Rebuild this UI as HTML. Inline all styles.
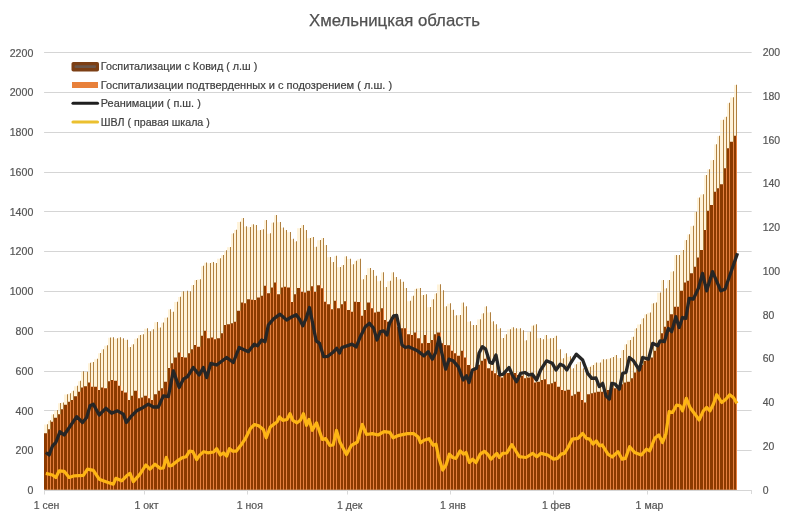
<!DOCTYPE html>
<html lang="ru"><head><meta charset="utf-8"><title>Хмельницкая область</title>
<style>html,body{margin:0;padding:0;background:#fff}svg{display:block}</style></head>
<body>
<svg width="792" height="530" viewBox="0 0 792 530" font-family="'Liberation Sans', sans-serif">
<rect width="792" height="530" fill="#fff"/>
<path d="M44.2 490.5H751.5M44.2 450.5H751.5M44.2 410.5H751.5M44.2 371.5H751.5M44.2 331.5H751.5M44.2 291.5H751.5M44.2 251.5H751.5M44.2 211.5H751.5M44.2 172.5H751.5M44.2 132.5H751.5M44.2 92.5H751.5M44.2 52.5H751.5" stroke="#d0d0d0" stroke-width="1" fill="none"/>
<path d="M751.5 490V494" stroke="#d9d9d9" stroke-width="1" fill="none"/>
<path d="M44 489.8H47V424.47H44ZM48 489.8H50V420.63H48ZM51 489.8H53V414.47H51ZM54 489.8H57V410.3H54ZM58 489.8H60V403.3H58ZM61 489.8H63V402.8H61ZM64 489.8H67V394.47H64ZM68 489.8H70V393.63H68ZM71 489.8H73V391.13H71ZM74 489.8H77V386.13H74ZM78 489.8H80V381.13H78ZM81 489.8H83V371.47H81ZM84 489.8H87V371.97H84ZM88 489.8H90V363.13H88ZM91 489.8H93V362.3H91ZM94 489.8H97V359.13H94ZM98 489.8H100V353.3H98ZM101 489.8H103V349.47H101ZM104 489.8H107V345.63H104ZM108 489.8H110V337.8H108ZM111 489.8H113V337.47H111ZM114 489.8H117V338.63H114ZM118 489.8H120V337.47H118ZM121 489.8H123V338.63H121ZM124 489.8H127V339.97H124ZM128 489.8H130V347.3H128ZM131 489.8H133V344.47H131ZM134 489.8H137V338.63H134ZM138 489.8H140V335.3H138ZM141 489.8H143V334.47H141ZM144 489.8H147V328.63H144ZM148 489.8H150V331.63H148ZM151 489.8H153V329.47H151ZM154 489.8H157V322.3H154ZM158 489.8H160V327.8H158ZM161 489.8H163V322.8H161ZM164 489.8H167V317.8H164ZM168 489.8H170V309.47H168ZM171 489.8H173V311.97H171ZM174 489.8H177V301.97H174ZM178 489.8H180V296.97H178ZM181 489.8H183V291.63H181ZM184 489.8H187V291.13H184ZM188 489.8H190V291.63H188ZM191 489.8H193V285.3H191ZM194 489.8H196V280.3H194ZM197 489.8H200V279.47H197ZM201 489.8H203V266.13H201ZM204 489.8H206V262.8H204ZM207 489.8H210V263.3H207ZM211 489.8H213V262.3H211ZM214 489.8H216V263.3H214ZM217 489.8H220V258.63H217ZM221 489.8H223V255.3H221ZM224 489.8H226V250.63H224ZM227 489.8H230V247.3H227ZM231 489.8H233V233.63H231ZM234 489.8H236V229.97H234ZM237 489.8H240V221.97H237ZM241 489.8H243V218.3H241ZM244 489.8H246V226.63H244ZM247 489.8H250V227.3H247ZM251 489.8H253V224.47H251ZM254 489.8H256V225.3H254ZM257 489.8H260V230.3H257ZM261 489.8H263V229.47H261ZM264 489.8H266V220.3H264ZM267 489.8H270V233.63H267ZM271 489.8H273V222.8H271ZM274 489.8H276V215.3H274ZM277 489.8H280V222.3H277ZM281 489.8H283V227.8H281ZM284 489.8H286V230.3H284ZM287 489.8H290V232.3H287ZM291 489.8H293V239.13H291ZM294 489.8H296V241.63H294ZM297 489.8H300V228.3H297ZM301 489.8H303V225.3H301ZM304 489.8H306V230.3H304ZM307 489.8H310V238.3H307ZM311 489.8H313V237.3H311ZM314 489.8H316V246.97H314ZM317 489.8H320V240.3H317ZM321 489.8H323V238.3H321ZM324 489.8H326V245.3H324ZM327 489.8H330V257.3H327ZM331 489.8H333V262.3H331ZM334 489.8H336V256.13H334ZM337 489.8H340V267.3H337ZM341 489.8H343V265.3H341ZM344 489.8H346V256.47H344ZM347 489.8H350V258.97H347ZM351 489.8H353V264.47H351ZM354 489.8H356V261.13H354ZM357 489.8H360V259.13H357ZM361 489.8H363V279.47H361ZM364 489.8H366V275.3H364ZM367 489.8H370V268.3H367ZM371 489.8H373V270.3H371ZM374 489.8H376V276.13H374ZM377 489.8H380V281.13H377ZM381 489.8H383V272.47H381ZM384 489.8H386V287.3H384ZM387 489.8H390V281.13H387ZM391 489.8H393V272.47H391ZM394 489.8H396V277.3H394ZM397 489.8H400V279.47H397ZM401 489.8H403V281.97H401ZM404 489.8H406V288.3H404ZM407 489.8H410V301.13H407ZM411 489.8H413V296.13H411ZM414 489.8H416V289.13H414ZM417 489.8H420V288.3H417ZM421 489.8H423V295.3H421ZM424 489.8H426V294.47H424ZM427 489.8H430V307.3H427ZM431 489.8H433V299.47H431ZM434 489.8H436V293.63H434ZM437 489.8H440V284.47H437ZM441 489.8H443V290.63H441ZM444 489.8H446V306.63H444ZM447 489.8H450V303.63H447ZM451 489.8H453V309.97H451ZM454 489.8H456V315.63H454ZM457 489.8H460V315.3H457ZM461 489.8H463V302.8H461ZM464 489.8H466V306.63H464ZM467 489.8H470V321.63H467ZM471 489.8H473V325.3H471ZM474 489.8H476V325.3H474ZM477 489.8H480V319.47H477ZM481 489.8H483V313.63H481ZM484 489.8H486V306.63H484ZM487 489.8H490V312.47H487ZM491 489.8H493V321.63H491ZM494 489.8H496V324.47H494ZM497 489.8H500V328.63H497ZM501 489.8H503V338.3H501ZM504 489.8H506V334.47H504ZM507 489.8H510V329.47H507ZM511 489.8H513V327.47H511ZM514 489.8H516V328.63H514ZM517 489.8H520V328.63H517ZM521 489.8H523V330.63H521ZM524 489.8H526V340.63H524ZM527 489.8H530V331.97H527ZM531 489.8H533V325.8H531ZM534 489.8H536V324.47H534ZM537 489.8H540V338.3H537ZM541 489.8H543V339.47H541ZM544 489.8H546V335.3H544ZM547 489.8H550V338.63H547ZM551 489.8H553V338.3H551ZM554 489.8H556V336.13H554ZM557 489.8H560V349.47H557ZM561 489.8H563V358.63H561ZM564 489.8H566V353.63H564ZM567 489.8H570V356.63H567ZM571 489.8H573V368.63H571ZM574 489.8H576V364.47H574ZM577 489.8H580V361.97H577ZM581 489.8H583V368.63H581ZM584 489.8H586V371.97H584ZM587 489.8H590V366.97H587ZM591 489.8H593V365.3H591ZM594 489.8H596V362.8H594ZM597 489.8H600V362.8H597ZM601 489.8H603V359.47H601ZM604 489.8H606V359.47H604ZM607 489.8H610V358.63H607ZM611 489.8H613V357.3H611ZM614 489.8H616V355.3H614ZM617 489.8H620V358.3H617ZM621 489.8H623V350.3H621ZM624 489.8H626V344.47H624ZM627 489.8H630V340.3H627ZM631 489.8H633V336.97H631ZM634 489.8H636V328.63H634ZM637 489.8H640V324.47H637ZM641 489.8H643V318.63H641ZM644 489.8H646V314.47H644ZM647 489.8H650V312.8H647ZM651 489.8H653V303.63H651ZM654 489.8H656V302.8H654ZM657 489.8H660V292.8H657ZM661 489.8H663V280.3H661ZM664 489.8H666V288.63H664ZM667 489.8H669V280.3H667ZM670 489.8H673V271.63H670ZM674 489.8H676V255.3H674ZM677 489.8H679V255.3H677ZM680 489.8H683V250.3H680ZM684 489.8H686V240.3H684ZM687 489.8H689V234.47H687ZM690 489.8H693V226.13H690ZM694 489.8H696V211.97H694ZM697 489.8H699V197.8H697ZM700 489.8H703V194.47H700ZM704 489.8H706V175.3H704ZM707 489.8H709V169.47H707ZM710 489.8H713V160.3H710ZM714 489.8H716V144.47H714ZM717 489.8H719V136.13H717ZM720 489.8H723V119.97H720ZM724 489.8H726V116.97H724ZM727 489.8H729V103.13H727ZM730 489.8H733V97.47H730ZM734 489.8H736V84.97H734Z" fill="#fff3da"/>
<path d="M44.2 490.5H751.5M44.2 450.5H751.5M44.2 410.5H751.5M44.2 371.5H751.5M44.2 331.5H751.5M44.2 291.5H751.5M44.2 251.5H751.5M44.2 211.5H751.5M44.2 172.5H751.5M44.2 132.5H751.5M44.2 92.5H751.5M44.2 52.5H751.5" stroke="#d9d9d9" stroke-opacity="0.6" stroke-width="1" fill="none"/>
<path d="M47 489.8H48V424.17H47ZM50 489.8H51V420.33H50ZM53 489.8H54V414.17H53ZM57 489.8H58V410H57ZM60 489.8H61V403H60ZM63 489.8H64V402.5H63ZM67 489.8H68V394.17H67ZM70 489.8H71V393.33H70ZM73 489.8H74V390.83H73ZM77 489.8H78V385.83H77ZM80 489.8H81V380.83H80ZM83 489.8H84V371.17H83ZM87 489.8H88V371.67H87ZM90 489.8H91V362.83H90ZM93 489.8H94V362H93ZM97 489.8H98V358.83H97ZM100 489.8H101V353H100ZM103 489.8H104V349.17H103ZM107 489.8H108V345.33H107ZM110 489.8H111V337.5H110ZM113 489.8H114V337.17H113ZM117 489.8H118V338.33H117ZM120 489.8H121V337.17H120ZM123 489.8H124V338.33H123ZM127 489.8H128V339.67H127ZM130 489.8H131V347H130ZM133 489.8H134V344.17H133ZM137 489.8H138V338.33H137ZM140 489.8H141V335H140ZM143 489.8H144V334.17H143ZM147 489.8H148V328.33H147ZM150 489.8H151V331.33H150ZM153 489.8H154V329.17H153ZM157 489.8H158V322H157ZM160 489.8H161V327.5H160ZM163 489.8H164V322.5H163ZM167 489.8H168V317.5H167ZM170 489.8H171V309.17H170ZM173 489.8H174V311.67H173ZM177 489.8H178V301.67H177ZM180 489.8H181V296.67H180ZM183 489.8H184V291.33H183ZM187 489.8H188V290.83H187ZM190 489.8H191V291.33H190ZM193 489.8H194V285H193ZM196 489.8H197V280H196ZM200 489.8H201V279.17H200ZM203 489.8H204V265.83H203ZM206 489.8H207V262.5H206ZM210 489.8H211V263H210ZM213 489.8H214V262H213ZM216 489.8H217V263H216ZM220 489.8H221V258.33H220ZM223 489.8H224V255H223ZM226 489.8H227V250.33H226ZM230 489.8H231V247H230ZM233 489.8H234V233.33H233ZM236 489.8H237V229.67H236ZM240 489.8H241V221.67H240ZM243 489.8H244V218H243ZM246 489.8H247V226.33H246ZM250 489.8H251V227H250ZM253 489.8H254V224.17H253ZM256 489.8H257V225H256ZM260 489.8H261V230H260ZM263 489.8H264V229.17H263ZM266 489.8H267V220H266ZM270 489.8H271V233.33H270ZM273 489.8H274V222.5H273ZM276 489.8H277V215H276ZM280 489.8H281V222H280ZM283 489.8H284V227.5H283ZM286 489.8H287V230H286ZM290 489.8H291V232H290ZM293 489.8H294V238.83H293ZM296 489.8H297V241.33H296ZM300 489.8H301V228H300ZM303 489.8H304V225H303ZM306 489.8H307V230H306ZM310 489.8H311V238H310ZM313 489.8H314V237H313ZM316 489.8H317V246.67H316ZM320 489.8H321V240H320ZM323 489.8H324V238H323ZM326 489.8H327V245H326ZM330 489.8H331V257H330ZM333 489.8H334V262H333ZM336 489.8H337V255.83H336ZM340 489.8H341V267H340ZM343 489.8H344V265H343ZM346 489.8H347V256.17H346ZM350 489.8H351V258.67H350ZM353 489.8H354V264.17H353ZM356 489.8H357V260.83H356ZM360 489.8H361V258.83H360ZM363 489.8H364V279.17H363ZM366 489.8H367V275H366ZM370 489.8H371V268H370ZM373 489.8H374V270H373ZM376 489.8H377V275.83H376ZM380 489.8H381V280.83H380ZM383 489.8H384V272.17H383ZM386 489.8H387V287H386ZM390 489.8H391V280.83H390ZM393 489.8H394V272.17H393ZM396 489.8H397V277H396ZM400 489.8H401V279.17H400ZM403 489.8H404V281.67H403ZM406 489.8H407V288H406ZM410 489.8H411V300.83H410ZM413 489.8H414V295.83H413ZM416 489.8H417V288.83H416ZM420 489.8H421V288H420ZM423 489.8H424V295H423ZM426 489.8H427V294.17H426ZM430 489.8H431V307H430ZM433 489.8H434V299.17H433ZM436 489.8H437V293.33H436ZM440 489.8H441V284.17H440ZM443 489.8H444V290.33H443ZM446 489.8H447V306.33H446ZM450 489.8H451V303.33H450ZM453 489.8H454V309.67H453ZM456 489.8H457V315.33H456ZM460 489.8H461V315H460ZM463 489.8H464V302.5H463ZM466 489.8H467V306.33H466ZM470 489.8H471V321.33H470ZM473 489.8H474V325H473ZM476 489.8H477V325H476ZM480 489.8H481V319.17H480ZM483 489.8H484V313.33H483ZM486 489.8H487V306.33H486ZM490 489.8H491V312.17H490ZM493 489.8H494V321.33H493ZM496 489.8H497V324.17H496ZM500 489.8H501V328.33H500ZM503 489.8H504V338H503ZM506 489.8H507V334.17H506ZM510 489.8H511V329.17H510ZM513 489.8H514V327.17H513ZM516 489.8H517V328.33H516ZM520 489.8H521V328.33H520ZM523 489.8H524V330.33H523ZM526 489.8H527V340.33H526ZM530 489.8H531V331.67H530ZM533 489.8H534V325.5H533ZM536 489.8H537V324.17H536ZM540 489.8H541V338H540ZM543 489.8H544V339.17H543ZM546 489.8H547V335H546ZM550 489.8H551V338.33H550ZM553 489.8H554V338H553ZM556 489.8H557V335.83H556ZM560 489.8H561V349.17H560ZM563 489.8H564V358.33H563ZM566 489.8H567V353.33H566ZM570 489.8H571V356.33H570ZM573 489.8H574V368.33H573ZM576 489.8H577V364.17H576ZM580 489.8H581V361.67H580ZM583 489.8H584V368.33H583ZM586 489.8H587V371.67H586ZM590 489.8H591V366.67H590ZM593 489.8H594V365H593ZM596 489.8H597V362.5H596ZM600 489.8H601V362.5H600ZM603 489.8H604V359.17H603ZM606 489.8H607V359.17H606ZM610 489.8H611V358.33H610ZM613 489.8H614V357H613ZM616 489.8H617V355H616ZM620 489.8H621V358H620ZM623 489.8H624V350H623ZM626 489.8H627V344.17H626ZM630 489.8H631V340H630ZM633 489.8H634V336.67H633ZM636 489.8H637V328.33H636ZM640 489.8H641V324.17H640ZM643 489.8H644V318.33H643ZM646 489.8H647V314.17H646ZM650 489.8H651V312.5H650ZM653 489.8H654V303.33H653ZM656 489.8H657V302.5H656ZM660 489.8H661V292.5H660ZM663 489.8H664V280H663ZM666 489.8H667V288.33H666ZM669 489.8H670V280H669ZM673 489.8H674V271.33H673ZM676 489.8H677V255H676ZM679 489.8H680V255H679ZM683 489.8H684V250H683ZM686 489.8H687V240H686ZM689 489.8H690V234.17H689ZM693 489.8H694V225.83H693ZM696 489.8H697V211.67H696ZM699 489.8H700V197.5H699ZM703 489.8H704V194.17H703ZM706 489.8H707V175H706ZM709 489.8H710V169.17H709ZM713 489.8H714V160H713ZM716 489.8H717V144.17H716ZM719 489.8H720V135.83H719ZM723 489.8H724V119.67H723ZM726 489.8H727V116.67H726ZM729 489.8H730V102.83H729ZM733 489.8H734V97.17H733ZM736 489.8H737V84.67H736Z" fill="#b08040"/>
<path d="M47 489.8H48V433.33H47ZM50 489.8H51V429.17H50ZM53 489.8H54V421.67H53ZM57 489.8H58V417.83H57ZM60 489.8H61V414.17H60ZM63 489.8H64V409.17H63ZM67 489.8H68V404.67H67ZM70 489.8H71V401.67H70ZM73 489.8H74V400H73ZM77 489.8H78V396.33H77ZM80 489.8H81V391.67H80ZM83 489.8H84V387.5H83ZM87 489.8H88V386.33H87ZM90 489.8H91V382.5H90ZM93 489.8H94V386.67H93ZM97 489.8H98V386.67H97ZM100 489.8H101V390H100ZM103 489.8H104V387.5H103ZM107 489.8H108V388.33H107ZM110 489.8H111V381.33H110ZM113 489.8H114V380H113ZM117 489.8H118V380.83H117ZM120 489.8H121V385.83H120ZM123 489.8H124V390.83H123ZM127 489.8H128V392.5H127ZM130 489.8H131V400H130ZM133 489.8H134V395.83H133ZM137 489.8H138V390.83H137ZM140 489.8H141V398.33H140ZM143 489.8H144V397.5H143ZM147 489.8H148V395.83H147ZM150 489.8H151V398.33H150ZM153 489.8H154V400H153ZM157 489.8H158V394.17H157ZM160 489.8H161V390.83H160ZM163 489.8H164V388.33H163ZM167 489.8H168V381.67H167ZM170 489.8H171V368H170ZM173 489.8H174V363.33H173ZM177 489.8H178V357.5H177ZM180 489.8H181V352.5H180ZM183 489.8H184V357H183ZM187 489.8H188V357.5H187ZM190 489.8H191V353.33H190ZM193 489.8H194V349.17H193ZM196 489.8H197V345H196ZM200 489.8H201V346.67H200ZM203 489.8H204V335.83H203ZM206 489.8H207V330.83H206ZM210 489.8H211V338.33H210ZM213 489.8H214V337.5H213ZM216 489.8H217V339.17H216ZM220 489.8H221V338.33H220ZM223 489.8H224V333.33H223ZM226 489.8H227V325H226ZM230 489.8H231V324.17H230ZM233 489.8H234V323.33H233ZM236 489.8H237V321.67H236ZM240 489.8H241V310.83H240ZM243 489.8H244V302.5H243ZM246 489.8H247V303.33H246ZM250 489.8H251V299.17H250ZM253 489.8H254V299.67H253ZM256 489.8H257V300H256ZM260 489.8H261V297.5H260ZM263 489.8H264V295.83H263ZM266 489.8H267V285.83H266ZM270 489.8H271V293.33H270ZM273 489.8H274V287.5H273ZM276 489.8H277V282.5H276ZM280 489.8H281V294.17H280ZM283 489.8H284V287.5H283ZM286 489.8H287V286.67H286ZM290 489.8H291V287.5H290ZM293 489.8H294V302H293ZM296 489.8H297V294.17H296ZM300 489.8H301V288H300ZM303 489.8H304V291.67H303ZM306 489.8H307V292.5H306ZM310 489.8H311V290.83H310ZM313 489.8H314V286.33H313ZM316 489.8H317V291.67H316ZM320 489.8H321V285.33H320ZM323 489.8H324V288.33H323ZM326 489.8H327V301.67H326ZM330 489.8H331V304.17H330ZM333 489.8H334V309.17H333ZM336 489.8H337V300.83H336ZM340 489.8H341V308.33H340ZM343 489.8H344V304.17H343ZM346 489.8H347V301.33H346ZM350 489.8H351V310H350ZM353 489.8H354V311.67H353ZM356 489.8H357V301.67H356ZM360 489.8H361V302H360ZM363 489.8H364V315.83H363ZM366 489.8H367V310H366ZM370 489.8H371V302.5H370ZM373 489.8H374V308.33H373ZM376 489.8H377V312.5H376ZM380 489.8H381V311.67H380ZM383 489.8H384V308.33H383ZM386 489.8H387V320H386ZM390 489.8H391V321.67H390ZM393 489.8H394V318.33H393ZM396 489.8H397V315.83H396ZM400 489.8H401V326.67H400ZM403 489.8H404V328.33H403ZM406 489.8H407V328.33H406ZM410 489.8H411V334.17H410ZM413 489.8H414V335H413ZM416 489.8H417V332.5H416ZM420 489.8H421V338.33H420ZM423 489.8H424V343.33H423ZM426 489.8H427V335H426ZM430 489.8H431V343H430ZM433 489.8H434V340H433ZM436 489.8H437V334.17H436ZM440 489.8H441V332.5H440ZM443 489.8H444V343.33H443ZM446 489.8H447V345H446ZM450 489.8H451V345.33H450ZM453 489.8H454V350.83H453ZM456 489.8H457V353.33H456ZM460 489.8H461V355.83H460ZM463 489.8H464V350.83H463ZM466 489.8H467V357.5H466ZM470 489.8H471V365H470ZM473 489.8H474V369.17H473ZM476 489.8H477V367.5H476ZM480 489.8H481V364.67H480ZM483 489.8H484V360.83H483ZM486 489.8H487V358.67H486ZM490 489.8H491V368.33H490ZM493 489.8H494V370.83H493ZM496 489.8H497V373.33H496ZM500 489.8H501V375H500ZM503 489.8H504V377.5H503ZM506 489.8H507V372.5H506ZM510 489.8H511V373H510ZM513 489.8H514V373.67H513ZM516 489.8H517V373H516ZM520 489.8H521V375H520ZM523 489.8H524V375.83H523ZM526 489.8H527V378.33H526ZM530 489.8H531V377.5H530ZM533 489.8H534V375H533ZM536 489.8H537V382.5H536ZM540 489.8H541V381.67H540ZM543 489.8H544V380H543ZM546 489.8H547V379.17H546ZM550 489.8H551V384.17H550ZM553 489.8H554V383.33H553ZM556 489.8H557V381.67H556ZM560 489.8H561V386.67H560ZM563 489.8H564V390H563ZM566 489.8H567V390.83H566ZM570 489.8H571V389.67H570ZM573 489.8H574V395.83H573ZM576 489.8H577V394.17H576ZM580 489.8H581V391.67H580ZM583 489.8H584V400H583ZM586 489.8H587V402.5H586ZM590 489.8H591V394.17H590ZM593 489.8H594V393.33H593ZM596 489.8H597V392.5H596ZM600 489.8H601V391.67H600ZM603 489.8H604V391.67H603ZM606 489.8H607V390.83H606ZM610 489.8H611V390H610ZM613 489.8H614V387.5H613ZM616 489.8H617V388.33H616ZM620 489.8H621V389.17H620ZM623 489.8H624V384.17H623ZM626 489.8H627V382.5H626ZM630 489.8H631V381.67H630ZM633 489.8H634V378.33H633ZM636 489.8H637V372.5H636ZM640 489.8H641V370H640ZM643 489.8H644V365H643ZM646 489.8H647V360.83H646ZM650 489.8H651V359.17H650ZM653 489.8H654V357.5H653ZM656 489.8H657V350.83H656ZM660 489.8H661V343.33H660ZM663 489.8H664V333.33H663ZM666 489.8H667V326.67H666ZM669 489.8H670V320.83H669ZM673 489.8H674V314.17H673ZM676 489.8H677V306.67H676ZM679 489.8H680V306.67H679ZM683 489.8H684V290.83H683ZM686 489.8H687V282.5H686ZM689 489.8H690V280.83H689ZM693 489.8H694V273.33H693ZM696 489.8H697V266.67H696ZM699 489.8H700V257.5H699ZM703 489.8H704V250H703ZM706 489.8H707V230H706ZM709 489.8H710V210.83H709ZM713 489.8H714V205H713ZM716 489.8H717V191.67H716ZM719 489.8H720V188.33H719ZM723 489.8H724V184.17H723ZM726 489.8H727V168.33H726ZM729 489.8H730V148.33H729ZM733 489.8H734V141.67H733ZM736 489.8H737V135.8H736Z" fill="#e58040"/>
<path d="M44 489.8H47V433.33H44ZM48 489.8H50V429.17H48ZM51 489.8H53V421.67H51ZM54 489.8H57V417.83H54ZM58 489.8H60V414.17H58ZM61 489.8H63V409.17H61ZM64 489.8H67V404.67H64ZM68 489.8H70V401.67H68ZM71 489.8H73V400H71ZM74 489.8H77V396.33H74ZM78 489.8H80V391.67H78ZM81 489.8H83V387.5H81ZM84 489.8H87V386.33H84ZM88 489.8H90V382.5H88ZM91 489.8H93V386.67H91ZM94 489.8H97V386.67H94ZM98 489.8H100V390H98ZM101 489.8H103V387.5H101ZM104 489.8H107V388.33H104ZM108 489.8H110V381.33H108ZM111 489.8H113V380H111ZM114 489.8H117V380.83H114ZM118 489.8H120V385.83H118ZM121 489.8H123V390.83H121ZM124 489.8H127V392.5H124ZM128 489.8H130V400H128ZM131 489.8H133V395.83H131ZM134 489.8H137V390.83H134ZM138 489.8H140V398.33H138ZM141 489.8H143V397.5H141ZM144 489.8H147V395.83H144ZM148 489.8H150V398.33H148ZM151 489.8H153V400H151ZM154 489.8H157V394.17H154ZM158 489.8H160V390.83H158ZM161 489.8H163V388.33H161ZM164 489.8H167V381.67H164ZM168 489.8H170V368H168ZM171 489.8H173V363.33H171ZM174 489.8H177V357.5H174ZM178 489.8H180V352.5H178ZM181 489.8H183V357H181ZM184 489.8H187V357.5H184ZM188 489.8H190V353.33H188ZM191 489.8H193V349.17H191ZM194 489.8H196V345H194ZM197 489.8H200V346.67H197ZM201 489.8H203V335.83H201ZM204 489.8H206V330.83H204ZM207 489.8H210V338.33H207ZM211 489.8H213V337.5H211ZM214 489.8H216V339.17H214ZM217 489.8H220V338.33H217ZM221 489.8H223V333.33H221ZM224 489.8H226V325H224ZM227 489.8H230V324.17H227ZM231 489.8H233V323.33H231ZM234 489.8H236V321.67H234ZM237 489.8H240V310.83H237ZM241 489.8H243V302.5H241ZM244 489.8H246V303.33H244ZM247 489.8H250V299.17H247ZM251 489.8H253V299.67H251ZM254 489.8H256V300H254ZM257 489.8H260V297.5H257ZM261 489.8H263V295.83H261ZM264 489.8H266V285.83H264ZM267 489.8H270V293.33H267ZM271 489.8H273V287.5H271ZM274 489.8H276V282.5H274ZM277 489.8H280V294.17H277ZM281 489.8H283V287.5H281ZM284 489.8H286V286.67H284ZM287 489.8H290V287.5H287ZM291 489.8H293V302H291ZM294 489.8H296V294.17H294ZM297 489.8H300V288H297ZM301 489.8H303V291.67H301ZM304 489.8H306V292.5H304ZM307 489.8H310V290.83H307ZM311 489.8H313V286.33H311ZM314 489.8H316V291.67H314ZM317 489.8H320V285.33H317ZM321 489.8H323V288.33H321ZM324 489.8H326V301.67H324ZM327 489.8H330V304.17H327ZM331 489.8H333V309.17H331ZM334 489.8H336V300.83H334ZM337 489.8H340V308.33H337ZM341 489.8H343V304.17H341ZM344 489.8H346V301.33H344ZM347 489.8H350V310H347ZM351 489.8H353V311.67H351ZM354 489.8H356V301.67H354ZM357 489.8H360V302H357ZM361 489.8H363V315.83H361ZM364 489.8H366V310H364ZM367 489.8H370V302.5H367ZM371 489.8H373V308.33H371ZM374 489.8H376V312.5H374ZM377 489.8H380V311.67H377ZM381 489.8H383V308.33H381ZM384 489.8H386V320H384ZM387 489.8H390V321.67H387ZM391 489.8H393V318.33H391ZM394 489.8H396V315.83H394ZM397 489.8H400V326.67H397ZM401 489.8H403V328.33H401ZM404 489.8H406V328.33H404ZM407 489.8H410V334.17H407ZM411 489.8H413V335H411ZM414 489.8H416V332.5H414ZM417 489.8H420V338.33H417ZM421 489.8H423V343.33H421ZM424 489.8H426V335H424ZM427 489.8H430V343H427ZM431 489.8H433V340H431ZM434 489.8H436V334.17H434ZM437 489.8H440V332.5H437ZM441 489.8H443V343.33H441ZM444 489.8H446V345H444ZM447 489.8H450V345.33H447ZM451 489.8H453V350.83H451ZM454 489.8H456V353.33H454ZM457 489.8H460V355.83H457ZM461 489.8H463V350.83H461ZM464 489.8H466V357.5H464ZM467 489.8H470V365H467ZM471 489.8H473V369.17H471ZM474 489.8H476V367.5H474ZM477 489.8H480V364.67H477ZM481 489.8H483V360.83H481ZM484 489.8H486V358.67H484ZM487 489.8H490V368.33H487ZM491 489.8H493V370.83H491ZM494 489.8H496V373.33H494ZM497 489.8H500V375H497ZM501 489.8H503V377.5H501ZM504 489.8H506V372.5H504ZM507 489.8H510V373H507ZM511 489.8H513V373.67H511ZM514 489.8H516V373H514ZM517 489.8H520V375H517ZM521 489.8H523V375.83H521ZM524 489.8H526V378.33H524ZM527 489.8H530V377.5H527ZM531 489.8H533V375H531ZM534 489.8H536V382.5H534ZM537 489.8H540V381.67H537ZM541 489.8H543V380H541ZM544 489.8H546V379.17H544ZM547 489.8H550V384.17H547ZM551 489.8H553V383.33H551ZM554 489.8H556V381.67H554ZM557 489.8H560V386.67H557ZM561 489.8H563V390H561ZM564 489.8H566V390.83H564ZM567 489.8H570V389.67H567ZM571 489.8H573V395.83H571ZM574 489.8H576V394.17H574ZM577 489.8H580V391.67H577ZM581 489.8H583V400H581ZM584 489.8H586V402.5H584ZM587 489.8H590V394.17H587ZM591 489.8H593V393.33H591ZM594 489.8H596V392.5H594ZM597 489.8H600V391.67H597ZM601 489.8H603V391.67H601ZM604 489.8H606V390.83H604ZM607 489.8H610V390H607ZM611 489.8H613V387.5H611ZM614 489.8H616V388.33H614ZM617 489.8H620V389.17H617ZM621 489.8H623V384.17H621ZM624 489.8H626V382.5H624ZM627 489.8H630V381.67H627ZM631 489.8H633V378.33H631ZM634 489.8H636V372.5H634ZM637 489.8H640V370H637ZM641 489.8H643V365H641ZM644 489.8H646V360.83H644ZM647 489.8H650V359.17H647ZM651 489.8H653V357.5H651ZM654 489.8H656V350.83H654ZM657 489.8H660V343.33H657ZM661 489.8H663V333.33H661ZM664 489.8H666V326.67H664ZM667 489.8H669V320.83H667ZM670 489.8H673V314.17H670ZM674 489.8H676V306.67H674ZM677 489.8H679V306.67H677ZM680 489.8H683V290.83H680ZM684 489.8H686V282.5H684ZM687 489.8H689V280.83H687ZM690 489.8H693V273.33H690ZM694 489.8H696V266.67H694ZM697 489.8H699V257.5H697ZM700 489.8H703V250H700ZM704 489.8H706V230H704ZM707 489.8H709V210.83H707ZM710 489.8H713V205H710ZM714 489.8H716V191.67H714ZM717 489.8H719V188.33H717ZM720 489.8H723V184.17H720ZM724 489.8H726V168.33H724ZM727 489.8H729V148.33H727ZM730 489.8H733V141.67H730ZM734 489.8H736V135.8H734Z" fill="#8b3a00"/>
<polyline points="45.83,473.33 52.5,475 55.83,477.5 59.17,470.83 64.17,471.33 69.17,477.5 74.17,475.83 83.33,475.33 87.5,469.17 93.33,470.33 99.17,479.17 106.67,482 113.33,484.17 115.83,478.33 121.67,480.83 126.67,475.83 130,473.33 133.33,481.67 140,474.17 145.83,465 150,469.17 155,464.17 160,468.33 163.33,468 166.33,457.5 169.17,465.83 172,465.33 177,461.17 182,457.83 186.17,456.67 189.5,451.17 192.83,451.67 196.67,459.5 199.5,455.33 203.67,451.67 207.83,452.83 213.67,452 216.67,448.67 220.33,455 223.67,452.83 226.67,456.17 229.5,448.67 232.83,451.17 236.17,451.17 242,443.67 245.33,438.67 250.33,428.67 254.5,424.5 258.67,425.67 263.33,429.5 266.17,437.83 270.33,427 274.5,423.67 277,422 279.5,417 282.83,420.33 287,419.5 290,413.67 292.83,420.33 297,422.83 300.33,420.33 303.42,413.67 306.5,425.33 309,419.5 312.33,430.33 316.5,422.83 322.33,439.5 325.67,438.67 329.83,445.33 333.17,445 336.5,430.33 339.83,442 346.5,454.5 351.5,445.33 357.33,442 362.33,424.5 366.5,434.5 372.33,433.67 378.17,435 384,431.67 389.83,432.33 393.17,437.83 399,435.33 407.33,433.67 414,433.67 418.17,437 420.67,442.83 424,440.33 429,438.67 433.17,445.33 436,444.17 438.5,456.67 442.67,470 446,465 449.33,454.17 452.67,457.5 456,458.33 460.17,450.83 463.5,454.17 466,452.5 469.33,462.5 472.67,459.17 476,462.5 480.17,454.17 484.33,451.33 487.67,454.17 491,459.17 496.83,453.33 499.33,457.5 502.67,453.33 506.83,453 511.83,444.67 515.17,450 519.33,456.67 526,457.5 532.67,453.33 536.83,456.67 541,453.33 547.67,455 553.5,459.17 557.67,458.33 561,454.17 564.33,453.33 568,447.5 572.17,439.17 578,438.33 582.67,433.33 586.33,438.33 589.67,439.17 593,444.17 596.33,440.83 599.67,445.83 602.17,445 608,454.17 612.17,457 618,451.67 622.17,459.17 625.5,458.33 629.67,446.67 634.67,452.5 641.33,455 646.33,449.17 649.67,450.83 654.67,438.33 658.83,435 662.5,442.5 665.83,434.17 669.17,411.67 672.5,412.5 676.67,405 680,405.83 682.5,410.83 686.33,398.33 690,407.5 695,414.17 699.17,420 703.33,410.83 706.67,407.5 710,410.83 713.33,404.17 716.67,394.67 721.67,402.5 725.83,399.17 729.67,394.67 733.33,397.5 737,403.33" fill="none" stroke="#fdb515" stroke-width="3.2" stroke-linejoin="round" stroke-linecap="butt"/>
<polyline points="45.83,452.5 49.17,455 52.5,445.83 55.83,442.5 60,431.67 64.17,435 76.67,416.67 82.5,422.5 86.67,417.5 90,405.83 93.33,404.17 99.17,415 105.83,408.33 111.67,413.33 117.5,410.83 123.33,414.17 126.33,422.5 130.83,416.67 136.67,410.83 141.67,408.33 148.33,404.17 153.33,407 158.33,407 163.33,395.83 168.33,396.67 173.33,370.83 179.17,387.5 183.33,379.17 187.5,376.67 193.33,367.5 199.17,375 203.33,367.5 206.67,377.5 210.83,363.33 216.67,365 226.67,357.5 233.33,362.5 239.17,347.5 248.33,351.67 254.17,344.17 257.5,345.83 261.67,340 265,341.67 268.33,325 273.33,319.17 280,314.17 286.67,320 292,316.67 296.17,314.67 299.5,319.17 302.83,325.83 306.17,318.33 309.5,307.5 312,320 316.17,340.83 319.5,343.33 323.67,356.67 327.83,356.33 333.67,351.67 336.67,348.33 339.5,353 342,347.5 347,345.83 352,344.17 356.17,347 360.33,336.67 365.33,326.67 369.5,323.33 373.67,328.33 377,340 380.33,331.67 383.67,330.83 387,335 389.5,323.33 393.67,315.83 396.67,315.33 398.67,325 402,345 405.33,347.5 408.67,346.67 412,348.33 415.33,349.67 418.67,351.67 424,355.83 428.17,351.67 432.33,359.17 435.67,352.5 439,337.5 441.5,351.67 445.67,369.17 449,359.17 453.17,360.83 458.17,366.67 463.17,380 466.5,375.83 469,382.5 472.33,370 476.5,368.33 479,353.33 482.33,346.67 485.67,349.17 489.83,362.5 492.33,363.33 496,355 499.83,375 503.17,374.17 509,367.5 512.33,375 516.5,381.67 520.67,373.33 524.83,372.5 529,375 532.33,374.17 536.5,380 540.67,370 546.5,360.83 552.33,363.33 556,370 560.17,364.17 563.5,365.83 566.83,370 571,362.5 576.33,354.17 582.67,360 587.67,373.33 591.83,378.33 596,378 599.33,386.67 602.67,383.33 606,395.83 609.33,399.17 611.83,383.33 615.17,384.17 619.33,389.17 622.67,373.33 626,372.5 629.33,357.5 633.5,360.83 639.33,370 642.67,357.5 648.5,359.17 652.67,343.33 657.67,345.83 660.17,340.83 664.33,341.67 668.33,328.33 671.67,331.67 675.83,316.67 679.17,327.5 682.5,317.5 685.83,318.33 689.17,298.33 693.33,299.17 698.33,288.33 702.5,273.33 706.67,290.83 712.5,271.67 720.83,290.83 725,289.17 737.5,253.33" fill="none" stroke="#262626" stroke-width="3.3" stroke-linejoin="round" stroke-linecap="butt"/>
<path d="M44.5 490.5V494.5M144.5 490.5V494.5M247.5 490.5V494.5M347.5 490.5V494.5M450.5 490.5V494.5M553.5 490.5V494.5M647.5 490.5V494.5" stroke="#d9d9d9" stroke-width="1" fill="none"/>
<text x="394.5" y="25.6" font-size="16.8" fill="#505050" stroke="#505050" stroke-width="0.25" text-anchor="middle" textLength="171" lengthAdjust="spacingAndGlyphs">Хмельницкая область</text>
<text x="33.3" y="494.1" font-size="10.9" fill="#555" stroke="#555" stroke-width="0.2" text-anchor="end" textLength="5.9" lengthAdjust="spacingAndGlyphs">0</text>
<text x="33.3" y="454.32" font-size="10.9" fill="#555" stroke="#555" stroke-width="0.2" text-anchor="end" textLength="17.7" lengthAdjust="spacingAndGlyphs">200</text>
<text x="33.3" y="414.54" font-size="10.9" fill="#555" stroke="#555" stroke-width="0.2" text-anchor="end" textLength="17.7" lengthAdjust="spacingAndGlyphs">400</text>
<text x="33.3" y="374.76" font-size="10.9" fill="#555" stroke="#555" stroke-width="0.2" text-anchor="end" textLength="17.7" lengthAdjust="spacingAndGlyphs">600</text>
<text x="33.3" y="334.98" font-size="10.9" fill="#555" stroke="#555" stroke-width="0.2" text-anchor="end" textLength="17.7" lengthAdjust="spacingAndGlyphs">800</text>
<text x="33.3" y="295.2" font-size="10.9" fill="#555" stroke="#555" stroke-width="0.2" text-anchor="end" textLength="23.6" lengthAdjust="spacingAndGlyphs">1000</text>
<text x="33.3" y="255.42" font-size="10.9" fill="#555" stroke="#555" stroke-width="0.2" text-anchor="end" textLength="23.6" lengthAdjust="spacingAndGlyphs">1200</text>
<text x="33.3" y="215.64" font-size="10.9" fill="#555" stroke="#555" stroke-width="0.2" text-anchor="end" textLength="23.6" lengthAdjust="spacingAndGlyphs">1400</text>
<text x="33.3" y="175.86" font-size="10.9" fill="#555" stroke="#555" stroke-width="0.2" text-anchor="end" textLength="23.6" lengthAdjust="spacingAndGlyphs">1600</text>
<text x="33.3" y="136.08" font-size="10.9" fill="#555" stroke="#555" stroke-width="0.2" text-anchor="end" textLength="23.6" lengthAdjust="spacingAndGlyphs">1800</text>
<text x="33.3" y="96.3" font-size="10.9" fill="#555" stroke="#555" stroke-width="0.2" text-anchor="end" textLength="23.6" lengthAdjust="spacingAndGlyphs">2000</text>
<text x="33.3" y="56.52" font-size="10.9" fill="#555" stroke="#555" stroke-width="0.2" text-anchor="end" textLength="23.6" lengthAdjust="spacingAndGlyphs">2200</text>
<text x="762.7" y="493.8" font-size="10.9" fill="#555" stroke="#555" stroke-width="0.2" textLength="5.8" lengthAdjust="spacingAndGlyphs">0</text>
<text x="762.7" y="450.02" font-size="10.9" fill="#555" stroke="#555" stroke-width="0.2" textLength="11.6" lengthAdjust="spacingAndGlyphs">20</text>
<text x="762.7" y="406.24" font-size="10.9" fill="#555" stroke="#555" stroke-width="0.2" textLength="11.6" lengthAdjust="spacingAndGlyphs">40</text>
<text x="762.7" y="362.46" font-size="10.9" fill="#555" stroke="#555" stroke-width="0.2" textLength="11.6" lengthAdjust="spacingAndGlyphs">60</text>
<text x="762.7" y="318.68" font-size="10.9" fill="#555" stroke="#555" stroke-width="0.2" textLength="11.6" lengthAdjust="spacingAndGlyphs">80</text>
<text x="762.7" y="274.9" font-size="10.9" fill="#555" stroke="#555" stroke-width="0.2" textLength="17.5" lengthAdjust="spacingAndGlyphs">100</text>
<text x="762.7" y="231.12" font-size="10.9" fill="#555" stroke="#555" stroke-width="0.2" textLength="17.5" lengthAdjust="spacingAndGlyphs">120</text>
<text x="762.7" y="187.34" font-size="10.9" fill="#555" stroke="#555" stroke-width="0.2" textLength="17.5" lengthAdjust="spacingAndGlyphs">140</text>
<text x="762.7" y="143.56" font-size="10.9" fill="#555" stroke="#555" stroke-width="0.2" textLength="17.5" lengthAdjust="spacingAndGlyphs">160</text>
<text x="762.7" y="99.78" font-size="10.9" fill="#555" stroke="#555" stroke-width="0.2" textLength="17.5" lengthAdjust="spacingAndGlyphs">180</text>
<text x="762.7" y="56" font-size="10.9" fill="#555" stroke="#555" stroke-width="0.2" textLength="17.5" lengthAdjust="spacingAndGlyphs">200</text>
<text x="46.6" y="509.3" font-size="10.8" fill="#555" stroke="#555" stroke-width="0.2" text-anchor="middle" textLength="25.6" lengthAdjust="spacingAndGlyphs">1 сен</text>
<text x="146.53" y="509.3" font-size="10.8" fill="#555" stroke="#555" stroke-width="0.2" text-anchor="middle" textLength="24.2" lengthAdjust="spacingAndGlyphs">1 окт</text>
<text x="249.79" y="509.3" font-size="10.8" fill="#555" stroke="#555" stroke-width="0.2" text-anchor="middle" textLength="26.1" lengthAdjust="spacingAndGlyphs">1 ноя</text>
<text x="349.72" y="509.3" font-size="10.8" fill="#555" stroke="#555" stroke-width="0.2" text-anchor="middle" textLength="25.4" lengthAdjust="spacingAndGlyphs">1 дек</text>
<text x="452.98" y="509.3" font-size="10.8" fill="#555" stroke="#555" stroke-width="0.2" text-anchor="middle" textLength="25.9" lengthAdjust="spacingAndGlyphs">1 янв</text>
<text x="556.24" y="509.3" font-size="10.8" fill="#555" stroke="#555" stroke-width="0.2" text-anchor="middle" textLength="28.7" lengthAdjust="spacingAndGlyphs">1 фев</text>
<text x="649.51" y="509.3" font-size="10.8" fill="#555" stroke="#555" stroke-width="0.2" text-anchor="middle" textLength="27.8" lengthAdjust="spacingAndGlyphs">1 мар</text>
<rect x="71.5" y="62" width="27.5" height="9.5" rx="1.8" fill="#7c3f15"/>
<rect x="74.5" y="65.3" width="21.5" height="2.8" rx="1" fill="#6a564a"/>
<rect x="72" y="82" width="26" height="6" fill="#e8803a"/>
<path d="M73 103.3H97.5" stroke="#1f1f1f" stroke-width="3.1" stroke-linecap="round"/>
<path d="M73 122H97.5" stroke="#ebc02f" stroke-width="3.1" stroke-linecap="round"/>
<text x="100.8" y="70.4" font-size="10.8" fill="#404040" stroke="#404040" stroke-width="0.2" textLength="156.5" lengthAdjust="spacingAndGlyphs">Госпитализации с Ковид ( л.ш )</text>
<text x="100.8" y="88.8" font-size="10.8" fill="#404040" stroke="#404040" stroke-width="0.2" textLength="291.3" lengthAdjust="spacingAndGlyphs">Госпитализации подтверденных и с подозрением ( л.ш. )</text>
<text x="100.8" y="107.4" font-size="10.8" fill="#404040" stroke="#404040" stroke-width="0.2" textLength="100" lengthAdjust="spacingAndGlyphs">Реанимации ( п.ш. )</text>
<text x="100.8" y="125.8" font-size="10.8" fill="#404040" stroke="#404040" stroke-width="0.2" textLength="109" lengthAdjust="spacingAndGlyphs">ШВЛ ( правая шкала )</text>
</svg>
</body></html>
